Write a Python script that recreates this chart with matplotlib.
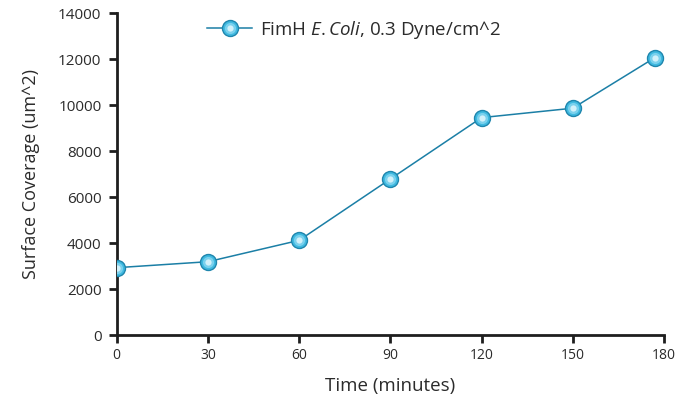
#!/usr/bin/env python

import matplotlib as mpl
mpl.use('Agg')
import matplotlib.pyplot as plt
from matplotlib.legend_handler import HandlerTuple

# data
time_min = [0, 30, 60, 90, 120, 150, 177]
coverage = [2930, 3190, 4120, 6790, 9460, 9870, 12070]
x_ticks = [0, 30, 60, 90, 120, 150, 180]
y_ticks = [0, 2000, 4000, 6000, 8000, 10000, 12000, 14000]
series_label = 'FimH $\\it{E.Coli}$, 0.3 Dyne/cm^2'

plt.rcParams['font.family'] = ['Open Sans', 'DejaVu Sans']
plt.rcParams['mathtext.fontset'] = 'custom'
plt.rcParams['mathtext.it'] = 'Open Sans:italic'
plt.rcParams['mathtext.rm'] = 'Open Sans'

text_col = '#2b2b2b'
line_col = '#1b7fa6'

fig = plt.figure(figsize=(6.87, 4.03), dpi=100)
ax = fig.add_axes([0.1699, 0.1687, 0.7966, 0.7983])

base, = ax.plot(time_min, coverage, color=line_col, lw=1.1, marker='o', ms=11.5,
                mfc='#3fb9e0', mec='#1f86ad', mew=1.0, zorder=3)
# fake a bit of the sphere shading with lighter dots on top
mid, = ax.plot(time_min, coverage, ls='none', marker='o', ms=8,
               mfc='#86d6f0', mec='none', alpha=0.85, zorder=4)
hi, = ax.plot(time_min, coverage, ls='none', marker='o', ms=4.5,
              mfc='#dcf5fc', mec='none', alpha=0.9, zorder=5)

ax.set_xlim(0, 180)
ax.set_ylim(0, 14000)
ax.set_xticks(x_ticks)
ax.set_yticks(y_ticks)

for s in ['top', 'right']:
    ax.spines[s].set_visible(False)
for s in ['left', 'bottom']:
    ax.spines[s].set_linewidth(2.0)
    ax.spines[s].set_color('#1e1e1e')

ax.tick_params(axis='both', direction='out', width=2.0, color='#1e1e1e',
               labelcolor=text_col)
ax.tick_params(axis='x', labelsize=10, length=5.5, pad=4)
ax.tick_params(axis='y', labelsize=11, length=6, pad=5)

ax.set_xlabel('Time (minutes)', fontsize=13.5, color=text_col, labelpad=10)
ax.set_ylabel('Surface Coverage (um^2)', fontsize=13, color=text_col, labelpad=13)

ax.legend([(base, mid, hi)], [series_label],
          handler_map={tuple: HandlerTuple(ndivide=1, pad=0)},
          loc='center left', bbox_to_anchor=(207 / 687, 1 - 30 / 403),
          bbox_transform=fig.transFigure, frameon=False, borderpad=0, borderaxespad=0,
          handlelength=2.4, handletextpad=0.45, numpoints=1, fontsize=13.5,
          labelcolor=text_col)

fig.savefig('out.png', dpi=100)
